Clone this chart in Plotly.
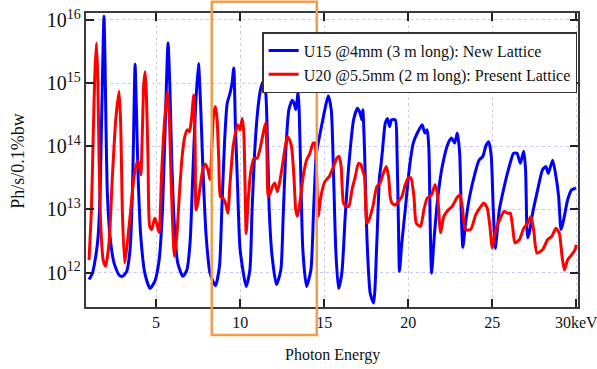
import plotly.graph_objects as go

# ---------------- data ----------------
u15_energy_kev = [
    1.01, 1.21, 1.41, 1.55, 1.67, 1.75, 1.83, 1.90, 1.96, 2.02, 2.10, 2.26, 2.50, 2.80, 3.00,
    3.25, 3.45, 3.59, 3.67, 3.75, 3.83, 3.93, 4.09, 4.33, 4.64, 4.92, 5.18, 5.38, 5.54, 5.71,
    5.83, 5.93, 6.09, 6.29, 6.59, 6.83, 7.02, 7.18, 7.34, 7.52, 7.66, 7.78, 7.98, 8.21, 8.53,
    8.77, 8.91, 9.07, 9.23, 9.40, 9.52, 9.62, 9.72, 9.84, 10.00, 10.36, 10.58, 10.71, 10.87, 11.07,
    11.23, 11.37, 11.51, 11.63, 11.73, 11.90, 12.16, 12.42, 12.56, 12.72, 12.90, 13.10, 13.21, 13.31, 13.39,
    13.45, 13.51, 13.61, 13.73, 13.95, 14.21, 14.37, 14.54, 14.80, 15.04, 15.24, 15.42, 15.56, 15.69, 15.85,
    16.05, 16.25, 16.49, 16.75, 16.98, 17.14, 17.24, 17.30, 17.40, 17.54, 17.74, 17.94, 18.13, 18.29, 18.37,
    18.47, 18.63, 18.77, 18.89, 19.01, 19.23, 19.33, 19.42, 19.48, 19.62, 19.82, 20.08, 20.30, 20.54, 20.83,
    20.99, 21.13, 21.23, 21.31, 21.39, 21.55, 21.79, 22.06, 22.38, 22.58, 22.76, 22.92, 23.06, 23.15, 23.25,
    23.41, 23.65, 23.97, 24.21, 24.44, 24.64, 24.80, 24.94, 25.06, 25.18, 25.42, 25.71, 26.01, 26.27, 26.47,
    26.67, 26.87, 26.98, 27.10, 27.22, 27.40, 27.70, 27.99, 28.19, 28.33, 28.59, 28.79, 28.95, 29.09, 29.25,
    29.48, 29.72, 29.98,
]
u15_log10_flux = [
    11.89, 11.99, 12.26, 12.57, 13.26, 14.31, 15.37, 16.06, 15.37, 14.31, 13.26, 12.57, 12.15, 11.96, 11.94,
    12.02, 12.36, 13.26, 14.31, 15.30, 14.58, 13.52, 12.57, 11.99, 11.75, 11.86, 12.20, 12.99, 14.31, 15.64,
    14.84, 13.78, 12.73, 12.15, 11.94, 12.04, 12.47, 13.52, 14.58, 15.31, 14.58, 13.68, 12.57, 11.99, 11.79,
    12.10, 12.99, 14.05, 14.68, 14.84, 15.00, 15.24, 14.31, 13.42, 12.36, 11.78, 12.04, 12.99, 13.94, 14.63,
    14.92, 15.02, 14.89, 14.05, 12.99, 12.26, 11.81, 12.04, 12.89, 13.94, 14.58, 14.73, 14.68, 14.58, 14.73,
    14.87, 14.58, 13.52, 12.36, 11.78, 12.04, 12.99, 13.89, 14.26, 14.58, 14.80, 14.58, 13.52, 12.36, 11.75,
    11.99, 12.89, 13.78, 14.42, 14.60, 14.52, 14.42, 14.58, 13.94, 12.57, 11.67, 11.52, 12.47, 13.52, 13.68,
    13.94, 14.36, 14.44, 14.31, 14.42, 14.42, 13.94, 12.73, 12.02, 12.47, 12.99, 13.68, 14.05, 14.21, 14.34,
    14.21, 14.26, 13.94, 12.73, 11.99, 12.57, 13.26, 13.73, 14.05, 14.13, 14.05, 14.21, 13.89, 12.99, 12.40,
    12.78, 13.20, 13.57, 13.78, 13.84, 14.02, 14.07, 13.84, 12.99, 12.38, 12.99, 13.36, 13.68, 13.89, 13.89,
    13.73, 13.92, 13.63, 12.55, 12.65, 12.94, 13.31, 13.63, 13.68, 13.57, 13.78, 13.52, 13.20, 12.68, 12.84,
    13.15, 13.31, 13.34,
]

u20_energy_kev = [
    1.01, 1.15, 1.25, 1.35, 1.45, 1.53, 1.61, 1.71, 1.85, 2.00, 2.20, 2.40, 2.60, 2.80, 2.90,
    2.99, 3.13, 3.29, 3.49, 3.69, 3.89, 3.99, 4.09, 4.19, 4.27, 4.35, 4.42, 4.52, 4.62, 4.74,
    4.92, 5.04, 5.18, 5.32, 5.48, 5.67, 5.79, 5.89, 5.99, 6.09, 6.23, 6.39, 6.55, 6.69, 6.85,
    6.98, 7.10, 7.24, 7.32, 7.38, 7.48, 7.62, 7.78, 7.94, 8.08, 8.21, 8.31, 8.41, 8.53, 8.63,
    8.73, 8.83, 8.97, 9.13, 9.27, 9.40, 9.56, 9.72, 9.86, 10.00, 10.12, 10.22, 10.30, 10.36, 10.48,
    10.63, 10.83, 11.01, 11.17, 11.35, 11.51, 11.59, 11.67, 11.79, 11.92, 12.06, 12.22, 12.38, 12.56, 12.72,
    12.82, 12.94, 13.06, 13.20, 13.31, 13.41, 13.55, 13.75, 13.95, 14.15, 14.34, 14.44, 14.52, 14.64, 14.80,
    15.04, 15.30, 15.56, 15.75, 15.89, 16.01, 16.15, 16.31, 16.47, 16.65, 16.85, 17.04, 17.18, 17.28, 17.40,
    17.54, 17.70, 17.90, 18.13, 18.33, 18.49, 18.69, 18.83, 18.93, 19.03, 19.23, 19.42, 19.62, 19.82, 20.02,
    20.16, 20.34, 20.48, 20.73, 20.93, 21.13, 21.39, 21.59, 21.73, 21.93, 22.12, 22.38, 22.62, 22.88, 23.08,
    23.21, 23.41, 23.71, 24.01, 24.25, 24.50, 24.70, 24.86, 25.00, 25.20, 25.48, 25.71, 25.91, 26.07, 26.21,
    26.35, 26.61, 26.87, 27.10, 27.30, 27.46, 27.66, 27.99, 28.29, 28.53, 28.79, 28.99, 29.15, 29.29, 29.48,
    29.72, 29.92, 30.00,
]
u20_log10_flux = [
    12.20, 12.99, 14.05, 15.10, 15.63, 15.10, 13.78, 12.73, 12.20, 12.10, 12.47, 13.52, 14.42, 14.87, 14.31,
    12.99, 12.15, 12.47, 12.99, 13.52, 13.76, 13.73, 13.55, 14.31, 15.00, 15.18, 14.84, 13.78, 12.73, 12.68,
    12.86, 12.78, 12.63, 13.52, 14.31, 14.87, 14.42, 13.52, 12.73, 12.26, 12.57, 13.26, 13.84, 14.13, 14.26,
    14.23, 14.42, 14.81, 14.05, 12.99, 13.10, 13.36, 13.63, 13.72, 13.63, 13.47, 13.94, 14.47, 14.63, 14.42,
    13.78, 13.20, 13.18, 13.10, 12.94, 13.42, 13.94, 14.21, 14.34, 14.26, 14.44, 14.21, 13.26, 12.62, 13.15,
    13.60, 13.81, 13.81, 13.94, 14.18, 14.37, 13.94, 13.20, 13.26, 13.36, 13.42, 13.28, 13.47, 13.78, 14.05,
    14.15, 14.10, 13.99, 13.52, 12.99, 12.89, 13.10, 13.52, 13.78, 13.89, 14.05, 14.05, 13.84, 12.89, 13.20,
    13.44, 13.52, 13.68, 13.81, 13.84, 13.68, 13.10, 13.05, 13.05, 13.31, 13.52, 13.73, 13.71, 13.63, 13.52,
    12.78, 12.86, 13.05, 13.36, 13.42, 13.55, 13.68, 13.52, 13.20, 13.10, 13.07, 13.13, 13.20, 13.39, 13.50,
    13.50, 13.20, 12.78, 12.73, 12.99, 13.18, 13.23, 13.39, 13.26, 12.63, 12.89, 12.99, 13.05, 13.18, 13.23,
    13.05, 12.68, 12.68, 12.91, 13.02, 13.10, 13.02, 12.73, 12.39, 12.68, 12.86, 12.97, 12.94, 12.94, 12.73,
    12.47, 12.52, 12.70, 12.78, 12.89, 12.68, 12.31, 12.36, 12.52, 12.57, 12.70, 12.62, 12.26, 12.04, 12.20,
    12.28, 12.36, 12.44,
]

x_tick_values = [5, 10, 15, 20, 25, 30]
x_tick_labels = ["5", "10", "15", "20", "25", "30keV"]

u15_name = "U15 @4mm (3 m long): New Lattice"
u20_name = "U20 @5.5mm (2 m long): Present Lattice"

highlight_kev = [8.31, 14.56]  # orange box bounds on the energy axis

# ---------------- figure ----------------
u15_flux = [10 ** v for v in u15_log10_flux]
u20_flux = [10 ** v for v in u20_log10_flux]

FONT = "Liberation Serif, Times New Roman, serif"

fig = go.Figure()
fig.add_trace(go.Scatter(
    x=u15_energy_kev, y=u15_flux, mode="lines", name=u15_name,
    line=dict(color="#0000ff", width=3, shape="spline", smoothing=0.6),
))
fig.add_trace(go.Scatter(
    x=u20_energy_kev, y=u20_flux, mode="lines", name=u20_name,
    line=dict(color="#ff0000", width=3, shape="spline", smoothing=0.6),
))

axis_common = dict(
    showline=True, linecolor="#3a3a3a", linewidth=2, mirror="ticks",
    ticks="inside", ticklen=8, tickwidth=2, tickcolor="#222",
    showgrid=True, gridcolor="#c9c9f5", griddash="dot", gridwidth=1,
    zeroline=False, tickfont=dict(family=FONT, size=16, color="#111"),
    ticklabeloverflow="allow", automargin=False,
)

fig.update_xaxes(
    range=[0.83, 30.1], tickvals=x_tick_values, ticktext=x_tick_labels, **axis_common
)
fig.update_yaxes(
    type="log", range=[11.455, 16.11], dtick=1, exponentformat="power",
    showexponent="all", **axis_common
)

fig.add_shape(
    type="rect", xref="x", yref="paper",
    x0=highlight_kev[0], x1=highlight_kev[1], y0=-0.095, y1=1.038,
    line=dict(color="#f39c4c", width=2.5), fillcolor="rgba(0,0,0,0)", layer="above",
)

fig.add_annotation(
    text="Photon Energy", xref="paper", yref="paper", x=0.5, y=-0.163,
    showarrow=False, yanchor="middle", font=dict(family=FONT, size=16, color="#111"),
)
fig.add_annotation(
    text="Ph/s/0.1%bw", xref="paper", yref="paper", x=-0.140, y=0.498,
    showarrow=False, textangle=-90, xanchor="center", yanchor="middle",
    font=dict(family=FONT, size=18, color="#111"),
)

fig.update_layout(
    width=597, height=369,
    margin=dict(l=86, r=19, t=13, b=62, autoexpand=False),
    paper_bgcolor="white", plot_bgcolor="white",
    showlegend=True,
    legend=dict(
        x=0.358, y=0.935, xanchor="left", yanchor="top",
        bgcolor="white", bordercolor="#333", borderwidth=1.5,
        font=dict(family=FONT, size=16, color="#111"),
        itemwidth=30, tracegroupgap=0,
    ),
)

fig.write_html(
    "out.html",
    config={"displayModeBar": False},
    post_script="document.body.style.margin='0';",
)
